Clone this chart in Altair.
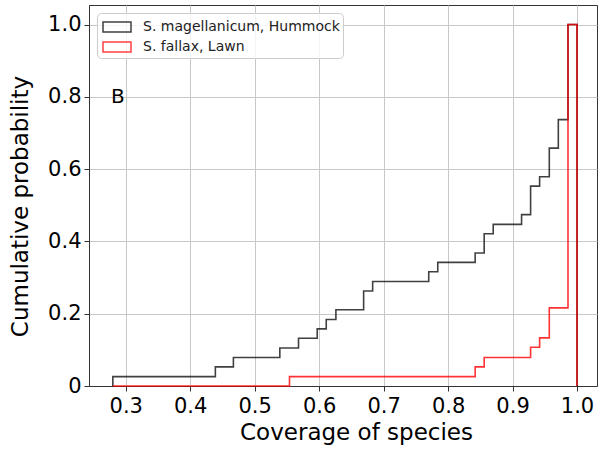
import altair as alt
import pandas as pd

series_names = ["S. magellanicum, Hummock", "S. fallax, Lawn"]
series_colors = ["black", "red"]

# step outline points (step-after): x of each jump and the cumulative level after it
hum_x = [0.280, 0.280, 0.439, 0.467, 0.539, 0.568, 0.597, 0.611, 0.626, 0.669, 0.683,
         0.770, 0.784, 0.842, 0.856, 0.870, 0.914, 0.928, 0.942, 0.957, 0.971, 0.986, 1.000]
hum_y = [0.0, 0.026, 0.053, 0.079, 0.105, 0.132, 0.158, 0.184, 0.211, 0.263, 0.289,
         0.316, 0.342, 0.368, 0.421, 0.447, 0.474, 0.553, 0.579, 0.658, 0.737, 1.0, 0.0]

law_x = [0.280, 0.554, 0.842, 0.856, 0.928, 0.942, 0.957, 0.986, 1.000]
law_y = [0.0, 0.026, 0.053, 0.079, 0.107, 0.133, 0.216, 1.0, 0.0]

x_ticks = [0.3, 0.4, 0.5, 0.6, 0.7, 0.8, 0.9, 1.0]
y_ticks = [0.0, 0.2, 0.4, 0.6, 0.8, 1.0]

rows = []
for i, (x, y) in enumerate(zip(hum_x, hum_y)):
    rows.append({"series": series_names[0], "x": x, "y": y, "idx": i})
for i, (x, y) in enumerate(zip(law_x, law_y)):
    rows.append({"series": series_names[1], "x": x, "y": y, "idx": i})
df = pd.DataFrame(rows)

FONT = "DejaVu Sans"

xscale = alt.Scale(domain=[0.243, 1.031], nice=False, zero=False)
yscale = alt.Scale(domain=[0.0, 1.054], nice=False, zero=False)

color_enc = alt.Color(
    "series:N",
    scale=alt.Scale(domain=series_names, range=series_colors),
    legend=alt.Legend(
        title=None, orient="none", legendX=8, legendY=8,
        symbolType="M-1.4,-0.5H1.4V0.5H-1.4Z", symbolSize=400,
        symbolStrokeWidth=1.5, symbolFillColor="transparent", symbolOpacity=0.75,
        symbolOffset=6, labelOffset=15, rowPadding=1, padding=3,
        labelFontSize=14, labelFont=FONT, labelColor="#222", labelLimit=400,
        fillColor="rgba(255,255,255,0.8)", strokeColor="#cccccc",
        cornerRadius=4),
)

def make_line(name, opacity):
    return alt.Chart(df).transform_filter(alt.datum.series == name).mark_line(
        interpolate="step-after", strokeWidth=1.6, opacity=opacity
    ).encode(
        x=alt.X("x:Q", scale=xscale,
                axis=alt.Axis(values=x_ticks, format=".1f", title="Coverage of species",
                              titleX=267, titleY=53, titleBaseline="alphabetic",
                              titleAlign="center")),
        y=alt.Y("y:Q", scale=yscale,
                axis=alt.Axis(values=y_ticks, title="Cumulative probability",
                              labelExpr="datum.value == 0 ? '0' : format(datum.value, '.1f')",
                              titleX=-62, titleY=201, titleAngle=270,
                              titleBaseline="alphabetic", titleAlign="center")),
        color=color_enc,
        order="idx:Q",
    )

hum_line = make_line(series_names[0], 0.75)
law_line = make_line(series_names[1], 0.8)

label_df = pd.DataFrame({"x": [0.277], "y": [0.8], "t": ["B"]})
label = alt.Chart(label_df).mark_text(
    align="left", baseline="middle", fontSize=20, font=FONT, color="black"
).encode(x=alt.X("x:Q", scale=xscale), y=alt.Y("y:Q", scale=yscale), text="t:N")

chart = alt.layer(hum_line, law_line, label).properties(
    width=508, height=381,
    autosize=alt.AutoSizeParams(type="none"),
    padding={"left": 89, "top": 5, "right": 4, "bottom": 64},
).configure_view(
    stroke="#333333", strokeWidth=1
).configure_axis(
    labelFont=FONT, titleFont=FONT, labelFontSize=21, titleFontSize=23,
    titleFontWeight="normal", labelColor="black", titleColor="black",
    tickSize=5, tickColor="#333333", domainColor="#333333", domainWidth=1,
    grid=True, gridColor="#c8c8c8", gridWidth=1, labelPadding=3,
).configure_axisX(labelPadding=4)

chart.save("out.html", embed_options={"renderer": "svg", "actions": False})
